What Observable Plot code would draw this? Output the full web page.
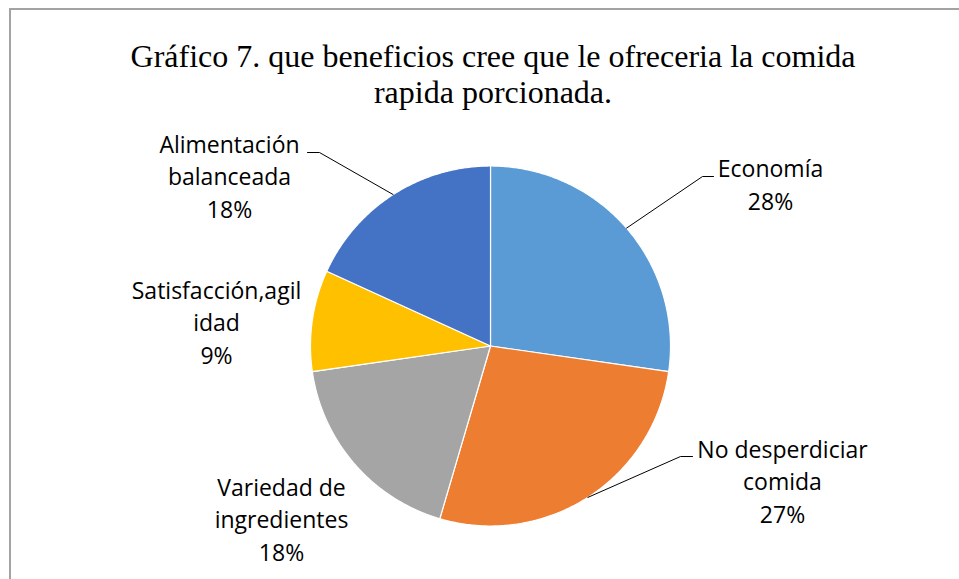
<!DOCTYPE html>
<html>
<head>
<meta charset="utf-8">
<script src="https://cdn.jsdelivr.net/npm/d3@7"></script>
<script src="https://cdn.jsdelivr.net/npm/@observablehq/plot@0.6"></script>
<style>
  html, body { margin: 0; padding: 0; background: #fff; overflow: hidden; }
  #wrap { position: relative; width: 959px; height: 579px; }
  #frame { position: absolute; left: 9px; top: 8px; width: 950px; height: 571px;
           border-top: 2px solid #a3a3a3; border-left: 2px solid #a3a3a3; box-sizing: border-box; }
  #chart { position: absolute; left: 0; top: 0; }
</style>
</head>
<body>
<div id="wrap"><div id="frame"></div><div id="chart"></div></div>
<script>
// ---- data ----
const categories = ["Economía", "No desperdiciar comida", "Variedad de ingredientes", "Satisfacción,agilidad", "Alimentación balanceada"];
const counts = [30, 30, 20, 10, 20];
const percentLabels = ["28%", "27%", "18%", "9%", "18%"];
const labelLines = ["Economía", "No desperdiciar\ncomida", "Variedad de\ningredientes", "Satisfacción,agil\nidad", "Alimentación\nbalanceada"];
const colors = ["#5B9BD5", "#ED7D31", "#A5A5A5", "#FFC000", "#4472C4"];
const titleText = "Gráfico 7. que beneficios cree que le ofreceria la comida\nrapida porcionada.";

// ---- layout (pie center at pixel 490,345.5, radius 180px = 1 unit) ----
const W = 959, H = 579, CX = 490, CY = 345.5, R = 180;
const px = (x) => (x - CX) / R;      // pixel -> unit
const py = (y) => (CY - y) / R;
// label anchor: [x center, last baseline] in pixels
const labelAnchors = [[770, 209], [782, 522], [281, 560], [216, 363], [229, 217]];
// leader lines: [kink, end] in pixels, or null
const leaders = [[[702, 176], [713, 176]], [[680, 456], [692, 456]], null, null, [[319, 152], [307, 152]]];

// ---- slice geometry from counts ----
const total = d3.sum(counts);
const slicePts = [];
const mids = [];
let acc = 0;
counts.forEach((c, i) => {
  const a0 = acc / total * 2 * Math.PI;
  acc += c;
  const a1 = acc / total * 2 * Math.PI;
  mids.push((a0 + a1) / 2);
  slicePts.push({cat: categories[i], x: 0, y: 0});
  const n = Math.max(2, Math.ceil((a1 - a0) / (Math.PI / 360)));
  for (let k = 0; k <= n; k++) {
    const a = a0 + (a1 - a0) * k / n;
    slicePts.push({cat: categories[i], x: Math.sin(a), y: Math.cos(a)});
  }
});

const leaderPts = [];
leaders.forEach((l, i) => {
  if (!l) return;
  leaderPts.push({cat: categories[i], x: Math.sin(mids[i]), y: Math.cos(mids[i])});
  l.forEach(([X, Y]) => leaderPts.push({cat: categories[i], x: px(X), y: py(Y)}));
});

const labels = categories.map((c, i) => ({
  text: labelLines[i] + "\n" + percentLabels[i],
  x: px(labelAnchors[i][0]),
  y: py(labelAnchors[i][1])
}));

const plot = Plot.plot({
  width: W, height: H,
  marginTop: 0, marginRight: 0, marginBottom: 0, marginLeft: 0,
  x: {domain: [px(0), px(W)], range: [0, W], axis: null},
  y: {domain: [py(H), py(0)], range: [H, 0], axis: null},
  color: {domain: categories, range: colors},
  style: {background: "transparent", overflow: "visible"},
  marks: [
    Plot.line(slicePts, {x: "x", y: "y", z: "cat", fill: "cat", stroke: "white", strokeWidth: 1.2, curve: "linear-closed"}),
    Plot.line(leaderPts, {x: "x", y: "y", z: "cat", stroke: "#000", strokeWidth: 1}),
    Plot.text(labels, {x: "x", y: "y", text: "text", textAnchor: "middle", lineAnchor: "bottom",
      lineHeight: 1.41, fontSize: 23, fontFamily: "Open Sans", fill: "#000"}),
    Plot.text([titleText], {frameAnchor: "top", dx: 13, dy: 102, text: (d) => d, lineAnchor: "bottom",
      lineHeight: 1.125, fontSize: 32, fontFamily: "Liberation Serif", fill: "#000", textAnchor: "middle"})
  ]
});
document.getElementById("chart").appendChild(plot);
</script>
</body>
</html>
